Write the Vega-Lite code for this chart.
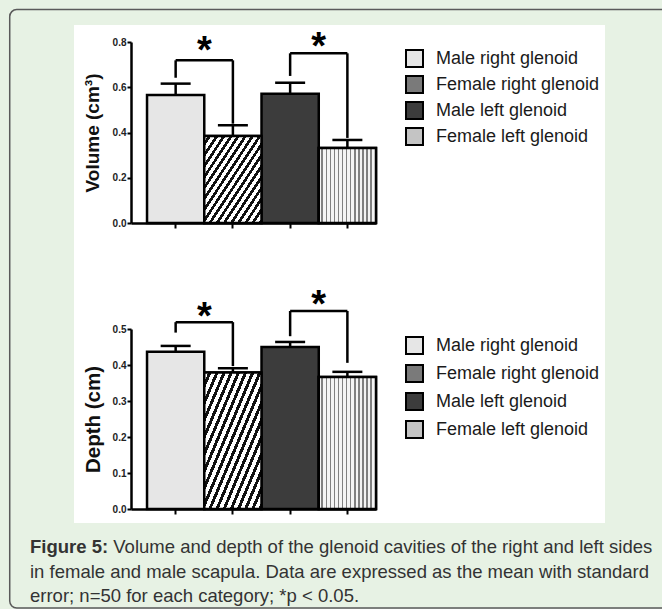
{
  "$schema": "https://vega.github.io/schema/vega-lite/v6.json",
  "padding": {"left": 8, "top": 8, "right": -10, "bottom": 0},
  "autosize": {"type": "pad"},
  "background": "#e7f2e4",
  "config": {
    "font": "Liberation Sans",
    "view": {"stroke": null},
    "axis": {"grid": false, "domainColor": "#000", "tickColor": "#000", "zindex": 1}
  },
  "datasets": {
    "vol": [
      {"cat": "Male right glenoid", "mean": 0.566, "upper": 0.616},
      {"cat": "Female right glenoid", "mean": 0.385, "upper": 0.432},
      {"cat": "Male left glenoid", "mean": 0.571, "upper": 0.620},
      {"cat": "Female left glenoid", "mean": 0.331, "upper": 0.367}
    ],
    "vol_sig": [
      {"a": "Male right glenoid", "b": "Female right glenoid", "a_end": 0.642, "b_end": 0.439, "top": 0.719, "star": 0.793},
      {"a": "Male left glenoid", "b": "Female left glenoid", "a_end": 0.650, "b_end": 0.376, "top": 0.750, "star": 0.809}
    ],
    "dep": [
      {"cat": "Male right glenoid", "mean": 0.437, "upper": 0.453},
      {"cat": "Female right glenoid", "mean": 0.379, "upper": 0.391},
      {"cat": "Male left glenoid", "mean": 0.450, "upper": 0.464},
      {"cat": "Female left glenoid", "mean": 0.367, "upper": 0.381}
    ],
    "dep_sig": [
      {"a": "Male right glenoid", "b": "Female right glenoid", "a_end": 0.490, "b_end": 0.397, "top": 0.519, "star": 0.553},
      {"a": "Male left glenoid", "b": "Female left glenoid", "a_end": 0.480, "b_end": 0.406, "top": 0.550, "star": 0.586}
    ]
  },
  "spacing": 106,
  "bounds": "flush",
  "resolve": {"scale": {"fill": "independent"}, "legend": {"fill": "independent"}},
  "vconcat": [
    {
      "width": 245,
      "height": 181,
      "title": {
        "text": "Volume and depth of the glenoid cavities of the right and left sides",
        "orient": "bottom", "anchor": "start", "frame": "group", "offset": -70.75, "dx": -17.7,
        "font": "Liberation Sans", "fontSize": 18.5, "fontWeight": "normal", "color": "#333"
      },
      "resolve": {"scale": {"x": "independent", "y": "independent"}, "axis": {"x": "independent", "y": "independent"}},
      "layer": [
        {
          "data": {"values": [{"panel": "frame"}]},
          "mark": {"type": "rect", "fill": null, "fillOpacity": 0, "stroke": "#5a5a5a", "strokeWidth": 1.5, "cornerRadius": 7},
          "encoding": {
            "x": {"datum": -0.495, "type": "quantitative", "scale": {"domain": [0, 1]}, "axis": null},
            "x2": {"datum": 2.204},
            "y": {"datum": 1.179, "type": "quantitative", "scale": {"domain": [0, 1]}, "axis": null},
            "y2": {"datum": -2.127}
          }
        },
        {
          "data": {"values": [{"panel": "image"}]},
          "mark": {"type": "rect", "fill": "white"},
          "encoding": {
            "x": {"datum": -0.2327, "type": "quantitative", "scale": {"domain": [0, 1]}, "axis": null},
            "x2": {"datum": 1.9347},
            "y": {"datum": 1.0939, "type": "quantitative", "scale": {"domain": [0, 1]}, "axis": null},
            "y2": {"datum": -1.6575}
          }
        },
        {
          "data": {"name": "vol"},
          "mark": {"type": "bar", "stroke": "#000", "strokeWidth": 2.5},
          "encoding": {
            "x": {"field": "cat", "type": "nominal", "sort": null,
              "scale": {"type": "band", "domain": ["Male right glenoid", "Female right glenoid", "Male left glenoid", "Female left glenoid"], "paddingInner": 0, "paddingOuter": 0.14, "align": 1},
              "axis": {"orient": "bottom", "title": null, "labels": false, "domainWidth": 2.5, "tickWidth": 2, "tickSize": 5, "zindex": 2}},
            "y": {"field": "mean", "type": "quantitative",
              "scale": {"domain": [0, 0.8], "nice": false},
              "axis": {"orient": "left", "title": "Volume (cm³)", "tickCount": 5, "format": ".1f", "labelOverlap": false, "zindex": 2,
                "domainWidth": 2.5, "tickWidth": 2, "tickSize": 4, "labelPadding": 1,
                "labelFontSize": 10, "labelFontWeight": "bold", "labelColor": "#222",
                "titleFontSize": 19, "titleFontWeight": "bold", "titleColor": "#111", "titlePadding": 10}},
            "fill": {"field": "cat", "type": "nominal",
              "scale": {"domain": ["Male right glenoid", "Female right glenoid", "Male left glenoid", "Female left glenoid"], "range": ["#e6e6e6", "#7a7a7a", "#3c3c3c", "#c4c4c4"]},
              "legend": {"orient": "none", "legendX": 274, "legendY": 7, "title": null, "padding": 0,
                "symbolType": "square", "symbolSize": 289, "symbolStrokeColor": "#000", "symbolStrokeWidth": 2, "symbolOpacity": 1,
                "labelFontSize": 18, "labelColor": "#1a1a1a", "labelOffset": 12, "labelLimit": 300, "rowPadding": 1}}
          }
        },
        {
          "data": {"name": "vol"},
          "transform": [{"filter": "datum.cat === 'Female right glenoid'"}],
          "mark": {"type": "bar", "stroke": "#000", "strokeWidth": 2.5,
            "fill": {"gradient": "linear", "x1": 0, "y1": 0, "x2": 1, "y2": 1, "stops": [
              {"offset": 0, "color": "#ffffff"}, {"offset": 0.0344, "color": "#ffffff"}, {"offset": 0.0344, "color": "#111111"}, {"offset": 0.0625, "color": "#111111"},
              {"offset": 0.0625, "color": "#ffffff"}, {"offset": 0.0969, "color": "#ffffff"}, {"offset": 0.0969, "color": "#111111"}, {"offset": 0.125, "color": "#111111"},
              {"offset": 0.125, "color": "#ffffff"}, {"offset": 0.1594, "color": "#ffffff"}, {"offset": 0.1594, "color": "#111111"}, {"offset": 0.1875, "color": "#111111"},
              {"offset": 0.1875, "color": "#ffffff"}, {"offset": 0.2219, "color": "#ffffff"}, {"offset": 0.2219, "color": "#111111"}, {"offset": 0.25, "color": "#111111"},
              {"offset": 0.25, "color": "#ffffff"}, {"offset": 0.2844, "color": "#ffffff"}, {"offset": 0.2844, "color": "#111111"}, {"offset": 0.3125, "color": "#111111"},
              {"offset": 0.3125, "color": "#ffffff"}, {"offset": 0.3469, "color": "#ffffff"}, {"offset": 0.3469, "color": "#111111"}, {"offset": 0.375, "color": "#111111"},
              {"offset": 0.375, "color": "#ffffff"}, {"offset": 0.4094, "color": "#ffffff"}, {"offset": 0.4094, "color": "#111111"}, {"offset": 0.4375, "color": "#111111"},
              {"offset": 0.4375, "color": "#ffffff"}, {"offset": 0.4719, "color": "#ffffff"}, {"offset": 0.4719, "color": "#111111"}, {"offset": 0.5, "color": "#111111"},
              {"offset": 0.5, "color": "#ffffff"}, {"offset": 0.5344, "color": "#ffffff"}, {"offset": 0.5344, "color": "#111111"}, {"offset": 0.5625, "color": "#111111"},
              {"offset": 0.5625, "color": "#ffffff"}, {"offset": 0.5969, "color": "#ffffff"}, {"offset": 0.5969, "color": "#111111"}, {"offset": 0.625, "color": "#111111"},
              {"offset": 0.625, "color": "#ffffff"}, {"offset": 0.6594, "color": "#ffffff"}, {"offset": 0.6594, "color": "#111111"}, {"offset": 0.6875, "color": "#111111"},
              {"offset": 0.6875, "color": "#ffffff"}, {"offset": 0.7219, "color": "#ffffff"}, {"offset": 0.7219, "color": "#111111"}, {"offset": 0.75, "color": "#111111"},
              {"offset": 0.75, "color": "#ffffff"}, {"offset": 0.7844, "color": "#ffffff"}, {"offset": 0.7844, "color": "#111111"}, {"offset": 0.8125, "color": "#111111"},
              {"offset": 0.8125, "color": "#ffffff"}, {"offset": 0.8469, "color": "#ffffff"}, {"offset": 0.8469, "color": "#111111"}, {"offset": 0.875, "color": "#111111"},
              {"offset": 0.875, "color": "#ffffff"}, {"offset": 0.9094, "color": "#ffffff"}, {"offset": 0.9094, "color": "#111111"}, {"offset": 0.9375, "color": "#111111"},
              {"offset": 0.9375, "color": "#ffffff"}, {"offset": 0.9719, "color": "#ffffff"}, {"offset": 0.9719, "color": "#111111"}, {"offset": 1, "color": "#111111"}
            ]}},
          "encoding": {
            "x": {"field": "cat", "type": "nominal",
              "scale": {"type": "band", "domain": ["Male right glenoid", "Female right glenoid", "Male left glenoid", "Female left glenoid"], "paddingInner": 0, "paddingOuter": 0.14, "align": 1}, "axis": null},
            "y": {"field": "mean", "type": "quantitative", "scale": {"domain": [0, 0.8], "nice": false}, "axis": null}
          }
        },
        {
          "data": {"name": "vol"},
          "transform": [{"filter": "datum.cat === 'Female left glenoid'"}],
          "mark": {"type": "bar", "stroke": "#000", "strokeWidth": 2.5,
            "fill": {"gradient": "linear", "x1": 0, "y1": 0, "x2": 1, "y2": 0, "stops": [
              {"offset": 0, "color": "#f4f4f4"}, {"offset": 0.0464, "color": "#f4f4f4"}, {"offset": 0.0464, "color": "#808080"}, {"offset": 0.0714, "color": "#808080"},
              {"offset": 0.0714, "color": "#f4f4f4"}, {"offset": 0.1179, "color": "#f4f4f4"}, {"offset": 0.1179, "color": "#808080"}, {"offset": 0.1429, "color": "#808080"},
              {"offset": 0.1429, "color": "#f4f4f4"}, {"offset": 0.1893, "color": "#f4f4f4"}, {"offset": 0.1893, "color": "#808080"}, {"offset": 0.2143, "color": "#808080"},
              {"offset": 0.2143, "color": "#f4f4f4"}, {"offset": 0.2607, "color": "#f4f4f4"}, {"offset": 0.2607, "color": "#808080"}, {"offset": 0.2857, "color": "#808080"},
              {"offset": 0.2857, "color": "#f4f4f4"}, {"offset": 0.3321, "color": "#f4f4f4"}, {"offset": 0.3321, "color": "#808080"}, {"offset": 0.3571, "color": "#808080"},
              {"offset": 0.3571, "color": "#f4f4f4"}, {"offset": 0.4036, "color": "#f4f4f4"}, {"offset": 0.4036, "color": "#808080"}, {"offset": 0.4286, "color": "#808080"},
              {"offset": 0.4286, "color": "#f4f4f4"}, {"offset": 0.475, "color": "#f4f4f4"}, {"offset": 0.475, "color": "#808080"}, {"offset": 0.5, "color": "#808080"},
              {"offset": 0.5, "color": "#f4f4f4"}, {"offset": 0.5464, "color": "#f4f4f4"}, {"offset": 0.5464, "color": "#808080"}, {"offset": 0.5714, "color": "#808080"},
              {"offset": 0.5714, "color": "#f4f4f4"}, {"offset": 0.6179, "color": "#f4f4f4"}, {"offset": 0.6179, "color": "#808080"}, {"offset": 0.6429, "color": "#808080"},
              {"offset": 0.6429, "color": "#f4f4f4"}, {"offset": 0.6893, "color": "#f4f4f4"}, {"offset": 0.6893, "color": "#808080"}, {"offset": 0.7143, "color": "#808080"},
              {"offset": 0.7143, "color": "#f4f4f4"}, {"offset": 0.7607, "color": "#f4f4f4"}, {"offset": 0.7607, "color": "#808080"}, {"offset": 0.7857, "color": "#808080"},
              {"offset": 0.7857, "color": "#f4f4f4"}, {"offset": 0.8321, "color": "#f4f4f4"}, {"offset": 0.8321, "color": "#808080"}, {"offset": 0.8571, "color": "#808080"},
              {"offset": 0.8571, "color": "#f4f4f4"}, {"offset": 0.9036, "color": "#f4f4f4"}, {"offset": 0.9036, "color": "#808080"}, {"offset": 0.9286, "color": "#808080"},
              {"offset": 0.9286, "color": "#f4f4f4"}, {"offset": 0.975, "color": "#f4f4f4"}, {"offset": 0.975, "color": "#808080"}, {"offset": 1, "color": "#808080"}
            ]}},
          "encoding": {
            "x": {"field": "cat", "type": "nominal",
              "scale": {"type": "band", "domain": ["Male right glenoid", "Female right glenoid", "Male left glenoid", "Female left glenoid"], "paddingInner": 0, "paddingOuter": 0.14, "align": 1}, "axis": null},
            "y": {"field": "mean", "type": "quantitative", "scale": {"domain": [0, 0.8], "nice": false}, "axis": null}
          }
        },
        {
          "data": {"name": "vol"},
          "mark": {"type": "rule", "stroke": "#000", "strokeWidth": 2.5},
          "encoding": {
            "x": {"field": "cat", "type": "nominal", "bandPosition": 0.5,
              "scale": {"type": "band", "domain": ["Male right glenoid", "Female right glenoid", "Male left glenoid", "Female left glenoid"], "paddingInner": 0, "paddingOuter": 0.14, "align": 1}, "axis": null},
            "y": {"field": "mean", "type": "quantitative", "scale": {"domain": [0, 0.8], "nice": false}, "axis": null},
            "y2": {"field": "upper"}
          }
        },
        {
          "data": {"name": "vol"},
          "mark": {"type": "tick", "orient": "horizontal", "size": 30, "thickness": 2.5, "color": "#000", "opacity": 1},
          "encoding": {
            "x": {"field": "cat", "type": "nominal", "bandPosition": 0.5,
              "scale": {"type": "band", "domain": ["Male right glenoid", "Female right glenoid", "Male left glenoid", "Female left glenoid"], "paddingInner": 0, "paddingOuter": 0.14, "align": 1}, "axis": null},
            "y": {"field": "upper", "type": "quantitative", "scale": {"domain": [0, 0.8], "nice": false}, "axis": null}
          }
        },
        {
          "data": {"name": "vol_sig"},
          "mark": {"type": "rule", "stroke": "#000", "strokeWidth": 2.5},
          "encoding": {
            "x": {"field": "a", "type": "nominal", "bandPosition": 0.5,
              "scale": {"type": "band", "domain": ["Male right glenoid", "Female right glenoid", "Male left glenoid", "Female left glenoid"], "paddingInner": 0, "paddingOuter": 0.14, "align": 1}, "axis": null},
            "y": {"field": "a_end", "type": "quantitative", "scale": {"domain": [0, 0.8], "nice": false}, "axis": null},
            "y2": {"field": "top"}
          }
        },
        {
          "data": {"name": "vol_sig"},
          "mark": {"type": "rule", "stroke": "#000", "strokeWidth": 2.5},
          "encoding": {
            "x": {"field": "b", "type": "nominal", "bandPosition": 0.5,
              "scale": {"type": "band", "domain": ["Male right glenoid", "Female right glenoid", "Male left glenoid", "Female left glenoid"], "paddingInner": 0, "paddingOuter": 0.14, "align": 1}, "axis": null},
            "y": {"field": "b_end", "type": "quantitative", "scale": {"domain": [0, 0.8], "nice": false}, "axis": null},
            "y2": {"field": "top"}
          }
        },
        {
          "data": {"name": "vol_sig"},
          "mark": {"type": "rule", "stroke": "#000", "strokeWidth": 2.5},
          "encoding": {
            "x": {"field": "a", "type": "nominal", "bandPosition": 0.5,
              "scale": {"type": "band", "domain": ["Male right glenoid", "Female right glenoid", "Male left glenoid", "Female left glenoid"], "paddingInner": 0, "paddingOuter": 0.14, "align": 1}, "axis": null},
            "x2": {"field": "b", "bandPosition": 0.5},
            "y": {"field": "top", "type": "quantitative", "scale": {"domain": [0, 0.8], "nice": false}, "axis": null}
          }
        },
        {
          "data": {"name": "vol_sig"},
          "mark": {"type": "text", "text": "*", "fontSize": 38, "fontWeight": "bold", "baseline": "middle", "align": "center", "dy": 8, "color": "#000"},
          "encoding": {
            "x": {"field": "a", "type": "nominal", "bandPosition": 1,
              "scale": {"type": "band", "domain": ["Male right glenoid", "Female right glenoid", "Male left glenoid", "Female left glenoid"], "paddingInner": 0, "paddingOuter": 0.14, "align": 1}, "axis": null},
            "y": {"field": "star", "type": "quantitative", "scale": {"domain": [0, 0.8], "nice": false}, "axis": null}
          }
        }
      ]
    },
    {
      "width": 245,
      "height": 180,
      "title": {
        "text": "Figure 5:",
        "subtitle": [
          "in female and male scapula. Data are expressed as the mean with standard",
          "error; n=50 for each category; *p < 0.05."
        ],
        "orient": "bottom", "anchor": "start", "frame": "group", "offset": 23, "dx": -101,
        "font": "Liberation Sans", "fontSize": 18.5, "fontWeight": "bold", "color": "#333",
        "subtitleFont": "Liberation Sans", "subtitleFontSize": 18.5, "subtitleFontWeight": "normal", "subtitleColor": "#333",
        "subtitlePadding": 6, "subtitleLineHeight": 24.5
      },
      "layer": [
        {
          "data": {"name": "dep"},
          "mark": {"type": "bar", "stroke": "#000", "strokeWidth": 2.5},
          "encoding": {
            "x": {"field": "cat", "type": "nominal", "sort": null,
              "scale": {"type": "band", "domain": ["Male right glenoid", "Female right glenoid", "Male left glenoid", "Female left glenoid"], "paddingInner": 0, "paddingOuter": 0.14, "align": 1},
              "axis": {"title": null, "labels": false, "domainWidth": 2.5, "tickWidth": 2, "tickSize": 5}},
            "y": {"field": "mean", "type": "quantitative",
              "scale": {"domain": [0, 0.5], "nice": false},
              "axis": {"orient": "left", "title": "Depth (cm)", "tickCount": 6, "format": ".1f", "labelOverlap": false,
                "domainWidth": 2.5, "tickWidth": 2, "tickSize": 4, "labelPadding": 1,
                "labelFontSize": 10, "labelFontWeight": "bold", "labelColor": "#222",
                "titleFontSize": 20.5, "titleFontWeight": "bold", "titleColor": "#111", "titlePadding": 9}},
            "fill": {"field": "cat", "type": "nominal",
              "scale": {"domain": ["Male right glenoid", "Female right glenoid", "Male left glenoid", "Female left glenoid"], "range": ["#e6e6e6", "#7a7a7a", "#3c3c3c", "#c4c4c4"]},
              "legend": {"orient": "none", "legendX": 274, "legendY": 7, "title": null, "padding": 0,
                "symbolType": "square", "symbolSize": 289, "symbolStrokeColor": "#000", "symbolStrokeWidth": 2, "symbolOpacity": 1,
                "labelFontSize": 18, "labelColor": "#1a1a1a", "labelOffset": 12, "labelLimit": 300, "rowPadding": 3}}
          }
        },
        {
          "data": {"name": "dep"},
          "transform": [{"filter": "datum.cat === 'Female right glenoid'"}],
          "mark": {"type": "bar", "stroke": "#000", "strokeWidth": 2.5,
            "fill": {"gradient": "linear", "x1": 0, "y1": 0, "x2": 1, "y2": 1, "stops": [
              {"offset": 0, "color": "#ffffff"}, {"offset": 0.0344, "color": "#ffffff"}, {"offset": 0.0344, "color": "#111111"}, {"offset": 0.0625, "color": "#111111"},
              {"offset": 0.0625, "color": "#ffffff"}, {"offset": 0.0969, "color": "#ffffff"}, {"offset": 0.0969, "color": "#111111"}, {"offset": 0.125, "color": "#111111"},
              {"offset": 0.125, "color": "#ffffff"}, {"offset": 0.1594, "color": "#ffffff"}, {"offset": 0.1594, "color": "#111111"}, {"offset": 0.1875, "color": "#111111"},
              {"offset": 0.1875, "color": "#ffffff"}, {"offset": 0.2219, "color": "#ffffff"}, {"offset": 0.2219, "color": "#111111"}, {"offset": 0.25, "color": "#111111"},
              {"offset": 0.25, "color": "#ffffff"}, {"offset": 0.2844, "color": "#ffffff"}, {"offset": 0.2844, "color": "#111111"}, {"offset": 0.3125, "color": "#111111"},
              {"offset": 0.3125, "color": "#ffffff"}, {"offset": 0.3469, "color": "#ffffff"}, {"offset": 0.3469, "color": "#111111"}, {"offset": 0.375, "color": "#111111"},
              {"offset": 0.375, "color": "#ffffff"}, {"offset": 0.4094, "color": "#ffffff"}, {"offset": 0.4094, "color": "#111111"}, {"offset": 0.4375, "color": "#111111"},
              {"offset": 0.4375, "color": "#ffffff"}, {"offset": 0.4719, "color": "#ffffff"}, {"offset": 0.4719, "color": "#111111"}, {"offset": 0.5, "color": "#111111"},
              {"offset": 0.5, "color": "#ffffff"}, {"offset": 0.5344, "color": "#ffffff"}, {"offset": 0.5344, "color": "#111111"}, {"offset": 0.5625, "color": "#111111"},
              {"offset": 0.5625, "color": "#ffffff"}, {"offset": 0.5969, "color": "#ffffff"}, {"offset": 0.5969, "color": "#111111"}, {"offset": 0.625, "color": "#111111"},
              {"offset": 0.625, "color": "#ffffff"}, {"offset": 0.6594, "color": "#ffffff"}, {"offset": 0.6594, "color": "#111111"}, {"offset": 0.6875, "color": "#111111"},
              {"offset": 0.6875, "color": "#ffffff"}, {"offset": 0.7219, "color": "#ffffff"}, {"offset": 0.7219, "color": "#111111"}, {"offset": 0.75, "color": "#111111"},
              {"offset": 0.75, "color": "#ffffff"}, {"offset": 0.7844, "color": "#ffffff"}, {"offset": 0.7844, "color": "#111111"}, {"offset": 0.8125, "color": "#111111"},
              {"offset": 0.8125, "color": "#ffffff"}, {"offset": 0.8469, "color": "#ffffff"}, {"offset": 0.8469, "color": "#111111"}, {"offset": 0.875, "color": "#111111"},
              {"offset": 0.875, "color": "#ffffff"}, {"offset": 0.9094, "color": "#ffffff"}, {"offset": 0.9094, "color": "#111111"}, {"offset": 0.9375, "color": "#111111"},
              {"offset": 0.9375, "color": "#ffffff"}, {"offset": 0.9719, "color": "#ffffff"}, {"offset": 0.9719, "color": "#111111"}, {"offset": 1, "color": "#111111"}
            ]}},
          "encoding": {
            "x": {"field": "cat", "type": "nominal"},
            "y": {"field": "mean", "type": "quantitative"}
          }
        },
        {
          "data": {"name": "dep"},
          "transform": [{"filter": "datum.cat === 'Female left glenoid'"}],
          "mark": {"type": "bar", "stroke": "#000", "strokeWidth": 2.5,
            "fill": {"gradient": "linear", "x1": 0, "y1": 0, "x2": 1, "y2": 0, "stops": [
              {"offset": 0, "color": "#f4f4f4"}, {"offset": 0.0464, "color": "#f4f4f4"}, {"offset": 0.0464, "color": "#808080"}, {"offset": 0.0714, "color": "#808080"},
              {"offset": 0.0714, "color": "#f4f4f4"}, {"offset": 0.1179, "color": "#f4f4f4"}, {"offset": 0.1179, "color": "#808080"}, {"offset": 0.1429, "color": "#808080"},
              {"offset": 0.1429, "color": "#f4f4f4"}, {"offset": 0.1893, "color": "#f4f4f4"}, {"offset": 0.1893, "color": "#808080"}, {"offset": 0.2143, "color": "#808080"},
              {"offset": 0.2143, "color": "#f4f4f4"}, {"offset": 0.2607, "color": "#f4f4f4"}, {"offset": 0.2607, "color": "#808080"}, {"offset": 0.2857, "color": "#808080"},
              {"offset": 0.2857, "color": "#f4f4f4"}, {"offset": 0.3321, "color": "#f4f4f4"}, {"offset": 0.3321, "color": "#808080"}, {"offset": 0.3571, "color": "#808080"},
              {"offset": 0.3571, "color": "#f4f4f4"}, {"offset": 0.4036, "color": "#f4f4f4"}, {"offset": 0.4036, "color": "#808080"}, {"offset": 0.4286, "color": "#808080"},
              {"offset": 0.4286, "color": "#f4f4f4"}, {"offset": 0.475, "color": "#f4f4f4"}, {"offset": 0.475, "color": "#808080"}, {"offset": 0.5, "color": "#808080"},
              {"offset": 0.5, "color": "#f4f4f4"}, {"offset": 0.5464, "color": "#f4f4f4"}, {"offset": 0.5464, "color": "#808080"}, {"offset": 0.5714, "color": "#808080"},
              {"offset": 0.5714, "color": "#f4f4f4"}, {"offset": 0.6179, "color": "#f4f4f4"}, {"offset": 0.6179, "color": "#808080"}, {"offset": 0.6429, "color": "#808080"},
              {"offset": 0.6429, "color": "#f4f4f4"}, {"offset": 0.6893, "color": "#f4f4f4"}, {"offset": 0.6893, "color": "#808080"}, {"offset": 0.7143, "color": "#808080"},
              {"offset": 0.7143, "color": "#f4f4f4"}, {"offset": 0.7607, "color": "#f4f4f4"}, {"offset": 0.7607, "color": "#808080"}, {"offset": 0.7857, "color": "#808080"},
              {"offset": 0.7857, "color": "#f4f4f4"}, {"offset": 0.8321, "color": "#f4f4f4"}, {"offset": 0.8321, "color": "#808080"}, {"offset": 0.8571, "color": "#808080"},
              {"offset": 0.8571, "color": "#f4f4f4"}, {"offset": 0.9036, "color": "#f4f4f4"}, {"offset": 0.9036, "color": "#808080"}, {"offset": 0.9286, "color": "#808080"},
              {"offset": 0.9286, "color": "#f4f4f4"}, {"offset": 0.975, "color": "#f4f4f4"}, {"offset": 0.975, "color": "#808080"}, {"offset": 1, "color": "#808080"}
            ]}},
          "encoding": {
            "x": {"field": "cat", "type": "nominal"},
            "y": {"field": "mean", "type": "quantitative"}
          }
        },
        {
          "data": {"name": "dep"},
          "mark": {"type": "rule", "stroke": "#000", "strokeWidth": 2.5},
          "encoding": {
            "x": {"field": "cat", "type": "nominal", "bandPosition": 0.5},
            "y": {"field": "mean", "type": "quantitative"},
            "y2": {"field": "upper"}
          }
        },
        {
          "data": {"name": "dep"},
          "mark": {"type": "tick", "orient": "horizontal", "size": 30, "thickness": 2.5, "color": "#000", "opacity": 1},
          "encoding": {
            "x": {"field": "cat", "type": "nominal", "bandPosition": 0.5},
            "y": {"field": "upper", "type": "quantitative"}
          }
        },
        {
          "data": {"name": "dep_sig"},
          "mark": {"type": "rule", "stroke": "#000", "strokeWidth": 2.5},
          "encoding": {
            "x": {"field": "a", "type": "nominal", "bandPosition": 0.5},
            "y": {"field": "a_end", "type": "quantitative"},
            "y2": {"field": "top"}
          }
        },
        {
          "data": {"name": "dep_sig"},
          "mark": {"type": "rule", "stroke": "#000", "strokeWidth": 2.5},
          "encoding": {
            "x": {"field": "b", "type": "nominal", "bandPosition": 0.5},
            "y": {"field": "b_end", "type": "quantitative"},
            "y2": {"field": "top"}
          }
        },
        {
          "data": {"name": "dep_sig"},
          "mark": {"type": "rule", "stroke": "#000", "strokeWidth": 2.5},
          "encoding": {
            "x": {"field": "a", "type": "nominal", "bandPosition": 0.5},
            "x2": {"field": "b", "bandPosition": 0.5},
            "y": {"field": "top", "type": "quantitative"}
          }
        },
        {
          "data": {"name": "dep_sig"},
          "mark": {"type": "text", "text": "*", "fontSize": 38, "fontWeight": "bold", "baseline": "middle", "align": "center", "dy": 8, "color": "#000"},
          "encoding": {
            "x": {"field": "a", "type": "nominal", "bandPosition": 1},
            "y": {"field": "star", "type": "quantitative"}
          }
        }
      ]
    }
  ]
}
